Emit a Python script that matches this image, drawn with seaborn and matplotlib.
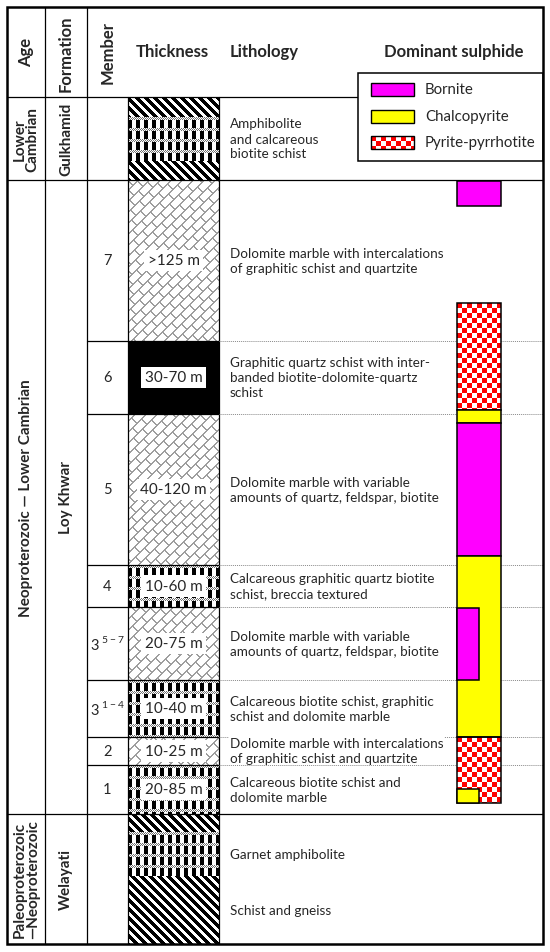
import numpy as np
import matplotlib
matplotlib.use('Agg')
import matplotlib.pyplot as plt
from matplotlib.patches import Rectangle
import seaborn as sns

sns.set_theme(style='white')
plt.rcParams['font.family'] = ['Lato', 'DejaVu Sans']
plt.rcParams['mathtext.fontset'] = 'custom'
plt.rcParams['mathtext.rm'] = 'Lato'

# --- Chart content ---
# Age / formation units (positions on the schematic column, top to bottom)
ages = ['Lower\nCambrian', 'Neoproterozoic — Lower Cambrian', 'Paleoproterozoic\n—Neoproterozoic']
formations = ['Gulkhamid', 'Loy Khwar', 'Welayati']
unit_bounds = [98, 181, 815, 945]

# Members of the Loy Khwar formation
members = ['7', '6', '5', '4', r'3$^{\mathregular{\ 5-7}}$', r'3$^{\mathregular{\ 1-4}}$', '2', '1']
member_bounds = [181, 342, 415, 566, 608, 681, 738, 766, 815]
thickness = ['>125 m', '30-70 m', '40-120 m', '10-60 m', '20-75 m', '10-40 m', '10-25 m', '20-85 m']
member_litho = [
    'Dolomite marble with intercalations\nof graphitic schist and quartzite',
    'Graphitic quartz schist with inter-\nbanded biotite-dolomite-quartz\nschist',
    'Dolomite marble with variable\namounts of quartz, feldspar, biotite',
    'Calcareous graphitic quartz biotite\nschist, breccia textured',
    'Dolomite marble with variable\namounts of quartz, feldspar, biotite',
    'Calcareous biotite schist, graphitic\nschist and dolomite marble',
    'Dolomite marble with intercalations\nof graphitic schist and quartzite',
    'Calcareous biotite schist and\ndolomite marble',
]
gulkhamid_litho = 'Amphibolite\nand calcareous\nbiotite schist'
welayati_litho = ['Garnet amphibolite', 'Schist and gneiss']

# Rock pattern layers in the thickness column
layer_bounds = [98, 118, 162, 181, 342, 415, 566, 608, 681, 738, 766, 815, 833, 877, 945]
layer_rock = ['stripe', 'schist', 'stripe', 'dolomite', 'black', 'dolomite', 'schist',
              'dolomite', 'schist', 'dolomite', 'schist', 'stripe', 'schist', 'stripe']

# Dominant sulphide intervals
sulph_mineral = ['Bornite', 'Pyrite-pyrrhotite', 'Chalcopyrite', 'Bornite', 'Chalcopyrite',
                 'Bornite', 'Pyrite-pyrrhotite', 'Chalcopyrite']
sulph_top = [182, 304, 411, 424, 557, 609, 738, 790]
sulph_bottom = [207, 411, 424, 557, 738, 681, 804, 804]
sulph_width = [1.0, 1.0, 1.0, 1.0, 1.0, 0.5, 1.0, 0.5]
legend_items = ['Bornite', 'Chalcopyrite', 'Pyrite-pyrrhotite']
mineral_color = {'Bornite': '#ff00ff', 'Chalcopyrite': '#ffff00', 'Pyrite-pyrrhotite': '#ff0000'}

# --- Layout (pixel units) ---
X_LEFT, X_RIGHT, Y_TOP, Y_BOTTOM = 7, 543, 8, 945
X_AGE, X_FORM, X_MEM, X_THK = 45, 87, 128, 219
SUL_X0, SUL_X1 = 457, 501

fig = plt.figure(figsize=(5.5, 9.53), dpi=100)
ax = fig.add_axes([0, 0, 1, 1])
ax.set_xlim(0, 550)
ax.set_ylim(953, 0)
ax.axis('off')


def texture(kind, x0, x1, y0, y1, z=1):
    x0, x1, y0, y1 = int(x0), int(x1), int(y0), int(y1)
    X, Y = np.meshgrid(np.arange(x0, x1) + 0.5, np.arange(y0, y1) + 0.5)
    img = np.ones(X.shape + (3,))
    if kind == 'stripe':
        img[((X - Y) % 9) < 4.3] = 0
    elif kind == 'schist':
        r = (Y - y0) % 11
        band = r < 3
        dots = band & (((np.floor(X) + np.floor(Y)) % 2) == 0)
        img[dots] = 0.45
        img[(~band) & ((X % 8) < 4)] = 0
    elif kind == 'dolomite':
        s = X + Y
        t = X - Y
        b = np.floor(s / 11)
        line = (s % 11) < 1.1
        tick = ((t + (b % 2) * 9) % 18) < 1.1
        img[line | tick] = 0.62
    elif kind == 'pyrite':
        red = (((X - x0) // 5 + (Y - y0) // 5) % 2) == 0
        img[red] = [1, 0, 0]
    elif kind == 'black':
        img[:] = 0
    ax.imshow(img, extent=(x0, x1, y1, y0), interpolation='nearest', aspect='auto', zorder=z)


# thickness column patterns
for rock, top, bot in zip(layer_rock, layer_bounds[:-1], layer_bounds[1:]):
    texture(rock, X_MEM + 1, X_THK, top, bot)

# sulphide column
for mineral, top, bot, w in zip(sulph_mineral, sulph_top, sulph_bottom, sulph_width):
    x1 = SUL_X0 + (SUL_X1 - SUL_X0) * w
    if mineral == 'Pyrite-pyrrhotite':
        texture('pyrite', SUL_X0, x1, top, bot, z=3)
        face = 'none'
    else:
        face = mineral_color[mineral]
    ax.add_patch(Rectangle((SUL_X0, top), x1 - SUL_X0, bot - top, facecolor=face,
                           edgecolor='black', lw=1.1, zorder=4))

# grid lines
line_kw = dict(color='black', lw=0.9, zorder=2)
for x in [X_AGE, X_FORM]:
    ax.plot([x, x], [Y_TOP, Y_BOTTOM], **line_kw)
for x in [X_MEM, X_THK]:
    ax.plot([x, x], [unit_bounds[0], Y_BOTTOM], **line_kw)
for y in unit_bounds[:-1]:
    ax.plot([X_LEFT, X_RIGHT], [y, y], **line_kw)
for y in member_bounds[1:-1]:
    ax.plot([X_FORM, X_THK], [y, y], **line_kw)
    ax.plot([X_THK, X_RIGHT], [y, y], color='#8a8a8a', lw=0.7, ls=(0, (1, 1)), zorder=2)
ax.add_patch(Rectangle((X_LEFT, Y_TOP), X_RIGHT - X_LEFT, Y_BOTTOM - Y_TOP,
                       facecolor='none', edgecolor='black', lw=1.8, zorder=6))

# header
hdr = dict(fontsize=12, fontweight='bold', va='center')
ax.text((X_LEFT + X_AGE) / 2, 52, 'Age', rotation=90, ha='center', **hdr)
ax.text((X_AGE + X_FORM) / 2, 54, 'Formation', rotation=90, ha='center', **hdr)
ax.text((X_FORM + X_MEM) / 2, 52, 'Member', rotation=90, ha='center', **hdr)
ax.text(172, 52, 'Thickness', ha='center', **hdr)
ax.text(230, 52, 'Lithology', ha='left', **hdr)
ax.text(454, 52, 'Dominant sulphide', ha='center', **hdr)

# legend box
ax.add_patch(Rectangle((358, 74), X_RIGHT - 358, 88, facecolor='white',
                       edgecolor='black', lw=1.1, zorder=5))
for i, name in enumerate(legend_items):
    y = 84 + i * 26.5
    if name == 'Pyrite-pyrrhotite':
        texture('pyrite', 371, 414, y, y + 13, z=6)
        face = 'none'
    else:
        face = mineral_color[name]
    ax.add_patch(Rectangle((371, y), 43, 13, facecolor=face, edgecolor='black', lw=1.0, zorder=7))
    ax.text(425, y + 6.5, name, fontsize=10.8, va='center', ha='left', zorder=7)

# age and formation labels
for age, form, top, bot in zip(ages, formations, unit_bounds[:-1], unit_bounds[1:]):
    mid = (top + bot) / 2
    ax.text((X_LEFT + X_AGE) / 2, mid, age, rotation=90, ha='center', va='center',
            fontsize=11, fontweight='bold', linespacing=0.95, zorder=3)
    ax.text((X_AGE + X_FORM) / 2, mid, form, rotation=90, ha='center', va='center',
            fontsize=11, fontweight='bold', zorder=3)

# members, thickness labels, lithology
litho_kw = dict(fontsize=9.7, ha='left', va='center', linespacing=1.3, zorder=3,
                bbox=dict(facecolor='white', edgecolor='none', pad=0.5))
for name, thk, lith, top, bot in zip(members, thickness, member_litho,
                                     member_bounds[:-1], member_bounds[1:]):
    mid = (top + bot) / 2
    ax.text((X_FORM + X_MEM) / 2, mid, name, ha='center', va='center', fontsize=10.5, zorder=3)
    ax.text((X_MEM + X_THK) / 2, mid, thk, ha='center', va='center', fontsize=11, zorder=3,
            bbox=dict(facecolor='white', edgecolor='none', pad=2.5))
    ax.text(230, mid, lith, **litho_kw)

ax.text(230, (unit_bounds[0] + unit_bounds[1]) / 2, gulkhamid_litho, **litho_kw)
for lith, top, bot in zip(welayati_litho, layer_bounds[-3:-1], layer_bounds[-2:]):
    ax.text(230, (top + bot) / 2, lith, **litho_kw)

ax.set_xlim(0, 550)
ax.set_ylim(953, 0)
fig.savefig('out.png', dpi=100, facecolor='white')
